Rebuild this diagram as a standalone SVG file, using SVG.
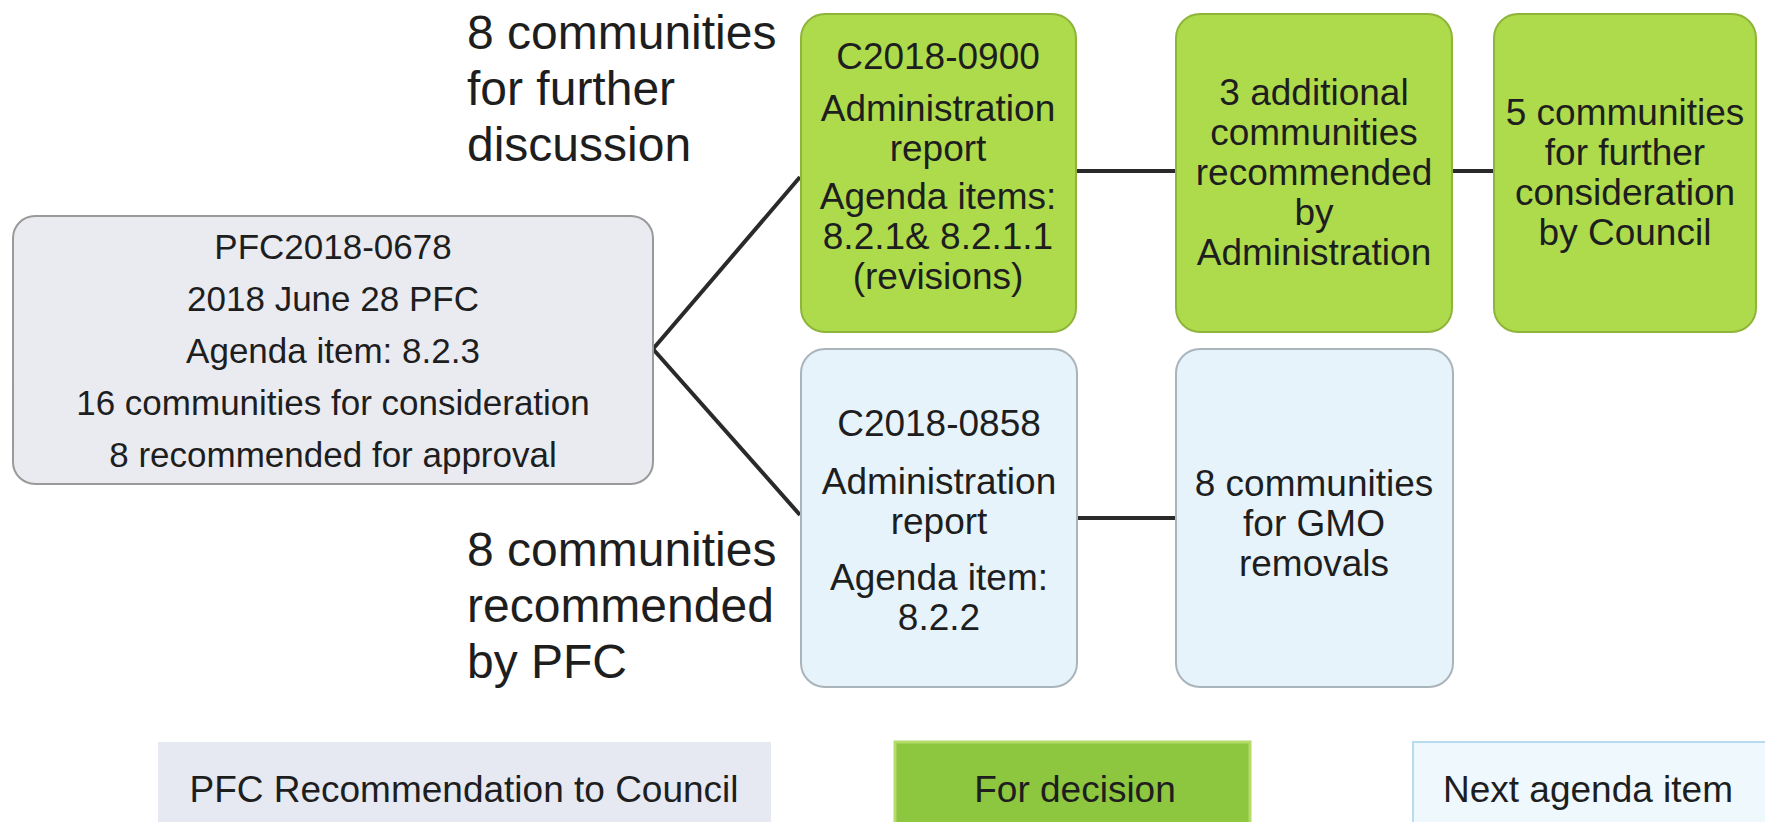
<svg xmlns="http://www.w3.org/2000/svg" width="1765" height="822" viewBox="0 0 1765 822">
<style>
text{font-family:"Liberation Sans",Arial,sans-serif;fill:#1e1e1e;text-anchor:middle}
.t{font-size:35px}
.r{font-size:37px}
.big{font-size:48px;text-anchor:start}
.lg{font-size:37px}
.gray{fill:#e9ebf1;stroke:#9a9a9a;stroke-width:2}
.green{fill:#addb4c;stroke:#8fb43a;stroke-width:2}
.blue{fill:#e6f3fb;stroke:#a9b4bb;stroke-width:2}
.conn{stroke:#2a2a2a;stroke-width:4;fill:none}
</style>
<rect width="1765" height="822" fill="#ffffff"/>
<g id="connectors">
<polyline class="conn" points="800,177 653,349 800,515"/>
<line class="conn" x1="1075" y1="171" x2="1176" y2="171"/>
<line class="conn" x1="1452" y1="171" x2="1494" y2="171"/>
<line class="conn" x1="1075" y1="518" x2="1176" y2="518"/>
</g>
<g id="pfc">
<rect class="gray" x="13" y="216" width="640" height="268" rx="22"/>
<text class="t" x="333" y="259">PFC2018-0678</text>
<text class="t" x="333" y="311">2018 June 28 PFC</text>
<text class="t" x="333" y="363">Agenda item: 8.2.3</text>
<text class="t" x="333" y="415">16 communities for consideration</text>
<text class="t" x="333" y="467">8 recommended for approval</text>
</g>
<g id="label-top">
<text class="big" x="467" y="49">8 communities</text>
<text class="big" x="467" y="105">for further</text>
<text class="big" x="467" y="161">discussion</text>
</g>
<g id="label-bottom">
<text class="big" x="467" y="566">8 communities</text>
<text class="big" x="467" y="622">recommended</text>
<text class="big" x="467" y="678">by PFC</text>
</g>
<g id="c2018-0900">
<rect class="green" x="801" y="14" width="275" height="318" rx="24"/>
<text class="r" x="938" y="69">C2018-0900</text>
<text class="r" x="938" y="121">Administration</text>
<text class="r" x="938" y="161">report</text>
<text class="r" x="938" y="209">Agenda items:</text>
<text class="r" x="938" y="249">8.2.1&amp; 8.2.1.1</text>
<text class="r" x="938" y="289">(revisions)</text>
</g>
<g id="additional">
<rect class="green" x="1176" y="14" width="276" height="318" rx="24"/>
<text class="r" x="1314" y="105">3 additional</text>
<text class="r" x="1314" y="145">communities</text>
<text class="r" x="1314" y="185">recommended</text>
<text class="r" x="1314" y="225">by</text>
<text class="r" x="1314" y="265">Administration</text>
</g>
<g id="council">
<rect class="green" x="1494" y="14" width="262" height="318" rx="24"/>
<text class="r" x="1625" y="125">5 communities</text>
<text class="r" x="1625" y="165">for further</text>
<text class="r" x="1625" y="205">consideration</text>
<text class="r" x="1625" y="245">by Council</text>
</g>
<g id="c2018-0858">
<rect class="blue" x="801" y="349" width="276" height="338" rx="24"/>
<text class="r" x="939" y="436">C2018-0858</text>
<text class="r" x="939" y="494">Administration</text>
<text class="r" x="939" y="534">report</text>
<text class="r" x="939" y="590">Agenda item:</text>
<text class="r" x="939" y="630">8.2.2</text>
</g>
<g id="gmo">
<rect class="blue" x="1176" y="349" width="277" height="338" rx="24"/>
<text class="r" x="1314" y="496">8 communities</text>
<text class="r" x="1314" y="536">for GMO</text>
<text class="r" x="1314" y="576">removals</text>
</g>
<g id="legend">
<rect x="158" y="742" width="613" height="90" fill="#e6e9f2"/>
<text class="lg" x="464" y="802">PFC Recommendation to Council</text>
<rect x="895" y="742" width="355" height="90" fill="#8dc63f" stroke="#b5dc6a" stroke-width="3"/>
<text class="lg" x="1075" y="802">For decision</text>
<rect x="1413" y="742" width="360" height="90" fill="#eef8fd" stroke="#b8dcef" stroke-width="2"/>
<text class="lg" x="1588" y="802">Next agenda item</text>
</g>
</svg>
